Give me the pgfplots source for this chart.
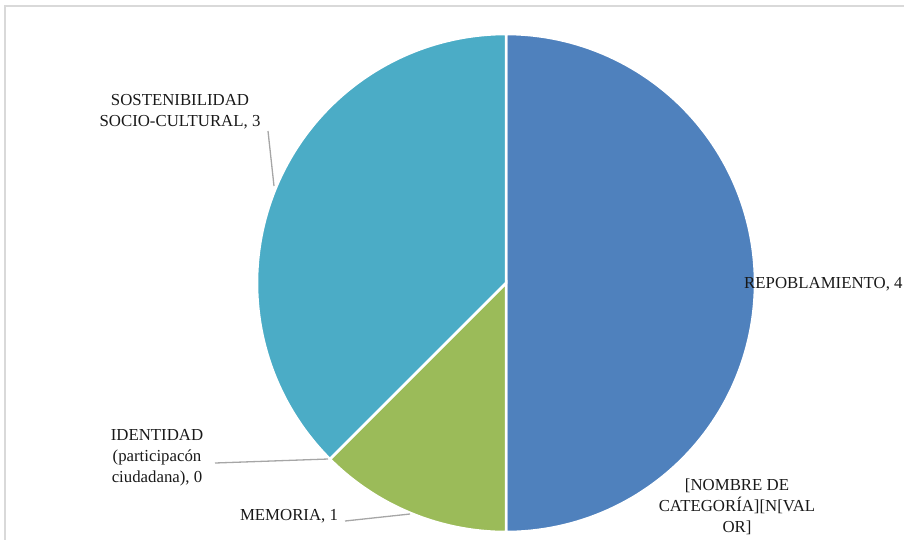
\documentclass[border=0pt]{standalone}
\usepackage{fontspec}
\setmainfont{Liberation Serif}
\usepackage{pgfplots}
\usepackage{pgfplotstable}
\pgfplotsset{compat=1.18}
\definecolor{pieblue}{HTML}{4F81BD}
\definecolor{piegreen}{HTML}{9BBB59}
\definecolor{pieteal}{HTML}{4BACC6}
\definecolor{leader}{HTML}{A6A6A6}
\definecolor{frame}{HTML}{D9D9D9}

\pgfplotstableread{
label value
Repoblamiento 4
Memoria 1
Identidad 0
Sostenibilidad 3
}\piedata

\begin{document}
\begin{tikzpicture}
\pgfplotstablegetelem{0}{value}\of\piedata \let\vA\pgfplotsretval
\pgfplotstablegetelem{1}{value}\of\piedata \let\vB\pgfplotsretval
\pgfplotstablegetelem{2}{value}\of\piedata \let\vC\pgfplotsretval
\pgfplotstablegetelem{3}{value}\of\piedata \let\vD\pgfplotsretval
\pgfmathsetmacro{\tot}{\vA+\vB+\vC+\vD}
\pgfmathsetmacro{\aO}{90}
\pgfmathsetmacro{\aA}{\aO-360*\vA/\tot}
\pgfmathsetmacro{\aB}{\aA-360*\vB/\tot}
\pgfmathsetmacro{\aC}{\aB-360*\vC/\tot}
\pgfmathsetmacro{\aD}{\aC-360*\vD/\tot}
\begin{axis}[name=ax,
  width=904pt, height=539pt, scale only axis,
  xmin=0, xmax=904, ymin=0, ymax=539, y dir=reverse,
  hide axis, clip=true]
% wedges (center 506,283 ; radius 249), angles measured counterclockwise from +x
\addplot[fill=pieblue, draw=white, line width=2.5pt, domain=\aA:\aO, samples=120, variable=\t]
  ({506+249*cos(\t)},{283-249*sin(\t)}) -- (axis cs:506,283) -- cycle;
\addplot[fill=piegreen, draw=white, line width=2.5pt, domain=\aB:\aA, samples=60, variable=\t]
  ({506+249*cos(\t)},{283-249*sin(\t)}) -- (axis cs:506,283) -- cycle;
\addplot[fill=pieteal, draw=white, line width=2.5pt, domain=\aD:\aC, samples=120, variable=\t]
  ({506+249*cos(\t)},{283-249*sin(\t)}) -- (axis cs:506,283) -- cycle;
% frame
\draw[frame, line width=2pt] (axis cs:5,540) -- (axis cs:5,6) -- (axis cs:905,6);
% leader lines
\draw[leader, line width=1.3pt] (axis cs:268,131) -- (axis cs:274,186);
\draw[leader, line width=1.3pt] (axis cs:215,463) -- (axis cs:328,459);
\draw[leader, line width=1.3pt] (axis cs:345,521) -- (axis cs:410,514);
% labels
\begin{scope}[every node/.style={font=\fontsize{16.8}{21}\selectfont, align=center, inner sep=0pt, text=black!90}]
\node at (axis cs:180,112) {SOSTENIBILIDAD\\SOCIO-CULTURAL, 3};
\node at (axis cs:157,458) {IDENTIDAD\\(participacón\\ciudadana), 0};
\node at (axis cs:289,516) {MEMORIA, 1};
\node[anchor=west] at (axis cs:744,284) {REPOBLAMIENTO, 4};
\node at (axis cs:737,507) {[NOMBRE DE\\CATEGORÍA][N[VAL\\OR]};
\end{scope}
\end{axis}
\pgfresetboundingbox
\path[use as bounding box] (ax.south west) rectangle (ax.north east);
\end{tikzpicture}
\end{document}
